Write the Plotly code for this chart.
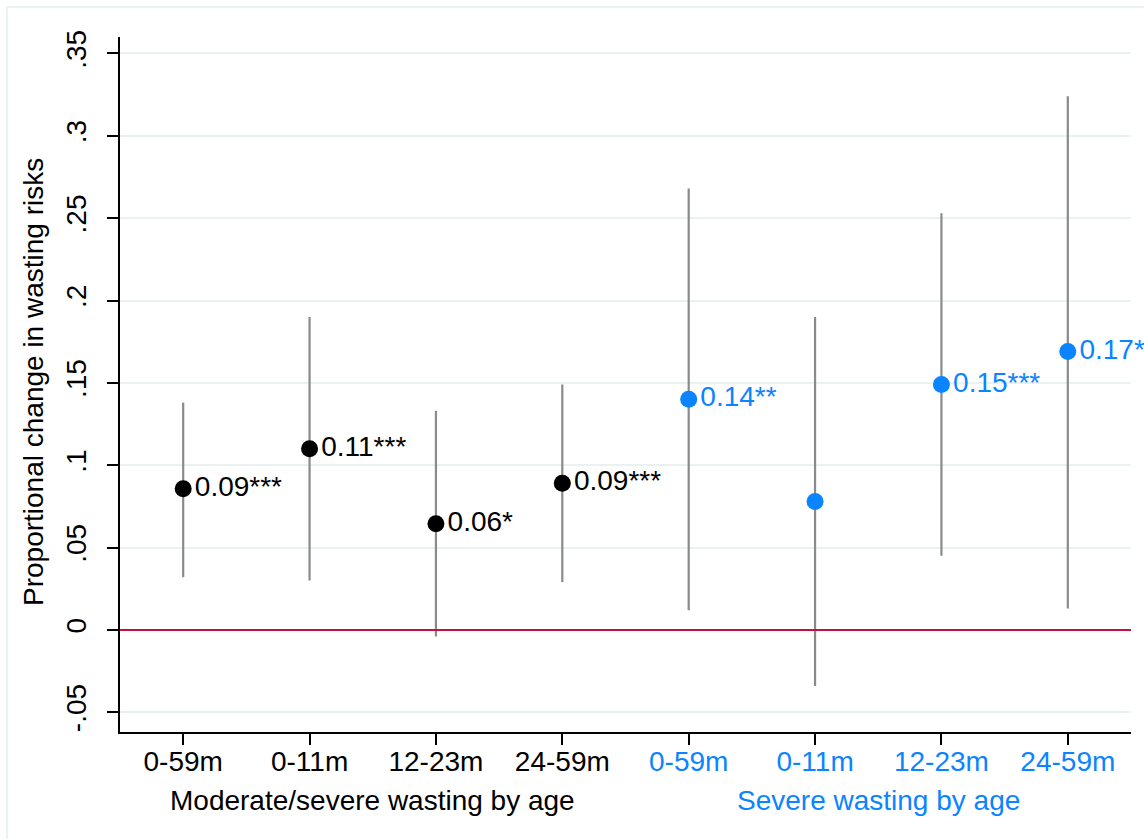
import plotly.graph_objects as go

# Point estimates with 95% confidence bounds, by outcome and age group
age_groups = ["0-59m", "0-11m", "12-23m", "24-59m"]
mod_est = [0.0857, 0.110, 0.0644, 0.089]
mod_lo = [0.032, 0.030, -0.004, 0.029]
mod_hi = [0.138, 0.190, 0.133, 0.149]
mod_stars = ["***", "***", "*", "***"]

sev_est = [0.140, 0.078, 0.149, 0.169]
sev_lo = [0.012, -0.034, 0.045, 0.013]
sev_hi = [0.268, 0.190, 0.253, 0.324]
sev_stars = ["**", "", "***", "*"]

y_ticks = [-0.05, 0, 0.05, 0.1, 0.15, 0.2, 0.25, 0.3, 0.35]
y_ticktext = ["-.05", "0", ".05", ".1", ".15", ".2", ".25", ".3", ".35"]

group_titles = ["Moderate/severe wasting by age", "Severe wasting by age"]

BLACK = "#000000"
BLUE = "#0A84FF"
GREY = "#8a8a8a"
RED = "#C8103C"
GRID = "#EAF1F3"
FONT = "Arial, 'Liberation Sans', sans-serif"
FS = 28

W, H = 1144, 839
L, R, T, B = 120, 13, 37, 107
pw, ph = W - L - R, H - T - B


def labels(est, stars):
    return [f"{e:.2f}{s}" if s else "" for e, s in zip(est, stars)]


fig = go.Figure()

for xs, est, lo, hi, stars, col in [
    ([1, 2, 3, 4], mod_est, mod_lo, mod_hi, mod_stars, BLACK),
    ([5, 6, 7, 8], sev_est, sev_lo, sev_hi, sev_stars, BLUE),
]:
    fig.add_trace(go.Scatter(
        x=xs, y=est, mode="markers+text",
        text=labels(est, stars), textposition="middle right",
        textfont=dict(family=FONT, size=FS, color=col),
        marker=dict(color=col, size=17, line=dict(width=0)),
        error_y=dict(type="data", symmetric=False,
                     array=[h - e for h, e in zip(hi, est)],
                     arrayminus=[e - l for e, l in zip(est, lo)],
                     color=GREY, thickness=2.2, width=0),
        cliponaxis=False, showlegend=False, hoverinfo="skip",
    ))

# reference line at zero
fig.add_shape(type="line", xref="paper", yref="y", x0=0, x1=1, y0=0, y1=0,
              line=dict(color=RED, width=2), layer="above")

# outer graph frame
fx0 = (7 - L) / pw
fy1 = (H - B - 7) / ph
fig.add_shape(type="line", xref="paper", yref="paper", x0=fx0, x1=1.2, y0=fy1, y1=fy1,
              line=dict(color=GRID, width=2))
fig.add_shape(type="line", xref="paper", yref="paper", x0=fx0, x1=fx0, y0=-0.3, y1=fy1,
              line=dict(color=GRID, width=2))

tick_text = [f"<span style='color:{BLACK}'>{a}</span>" for a in age_groups] + \
            [f"<span style='color:{BLUE}'>{a}</span>" for a in age_groups]

fig.update_xaxes(
    range=[0.5, 8.5], tickvals=list(range(1, 9)), ticktext=tick_text,
    showline=True, linecolor="black", linewidth=1.5, mirror=False,
    ticks="outside", ticklen=11, tickwidth=1.5, tickcolor="black",
    showgrid=False, zeroline=False, ticklabelstandoff=-7,
    tickfont=dict(family=FONT, size=FS, color=BLACK),
)
fig.update_yaxes(
    range=[-0.062, 0.360], tickvals=y_ticks, ticktext=y_ticktext, tickangle=-90,
    showline=True, linecolor="black", linewidth=1.5,
    ticks="outside", ticklen=11, tickwidth=1.5, tickcolor="black",
    showgrid=True, gridcolor=GRID, gridwidth=1.5, zeroline=False,
    ticklabelstandoff=10,
    tickfont=dict(family=FONT, size=FS, color=BLACK),
)

annotations = [
    dict(text=group_titles[0], x=2.5, xref="x", y=(H - B - 800) / ph, yref="paper",
         showarrow=False, font=dict(family=FONT, size=FS, color=BLACK), yanchor="middle"),
    dict(text=group_titles[1], x=6.5, xref="x", y=(H - B - 800) / ph, yref="paper",
         showarrow=False, font=dict(family=FONT, size=FS, color=BLUE), yanchor="middle"),
    dict(text="Proportional change in wasting risks", x=(33 - L) / pw, xref="paper",
         y=(H - B - 382) / ph, yref="paper", textangle=-90, showarrow=False,
         font=dict(family=FONT, size=FS, color=BLACK), xanchor="center", yanchor="middle"),
]

fig.update_layout(
    width=W, height=H,
    margin=dict(l=L, r=R, t=T, b=B),
    paper_bgcolor="white", plot_bgcolor="white",
    annotations=annotations,
)

fig.write_html("out.html")
